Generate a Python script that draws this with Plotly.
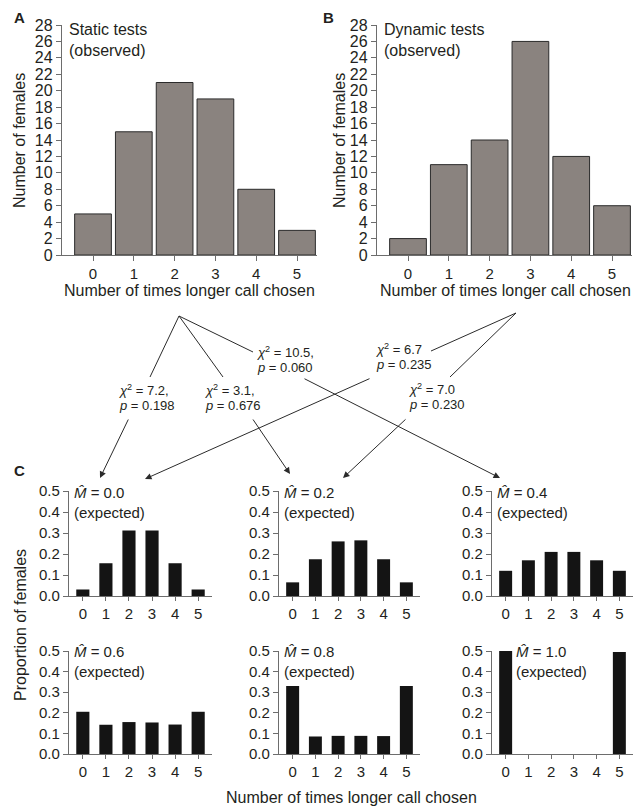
import plotly.graph_objects as go

W, H = 639, 810

# ---------------- data ----------------
times_chosen = [0, 1, 2, 3, 4, 5]
static_observed = [5, 15, 21, 19, 8, 3]
dynamic_observed = [2, 11, 14, 26, 12, 6]

m_labels = ["0.0", "0.2", "0.4", "0.6", "0.8", "1.0"]
exp_m00 = [0.031, 0.156, 0.312, 0.312, 0.156, 0.031]
exp_m02 = [0.065, 0.175, 0.260, 0.265, 0.175, 0.065]
exp_m04 = [0.120, 0.170, 0.210, 0.210, 0.170, 0.120]
exp_m06 = [0.205, 0.142, 0.155, 0.153, 0.143, 0.205]
exp_m08 = [0.330, 0.085, 0.088, 0.088, 0.087, 0.330]
exp_m10 = [0.500, 0.0, 0.0, 0.0, 0.0, 0.495]
expected = [exp_m00, exp_m02, exp_m04, exp_m06, exp_m08, exp_m10]

chi_labels = ["7.2,", "3.1,", "10.5,", "6.7", "7.0"]
p_labels = ["0.198", "0.676", "0.060", "0.235", "0.230"]

# ---------------- helpers ----------------
FONT = "Liberation Sans, Arial, Helvetica, sans-serif"
TXT = "#231f20"
AX = "#6d6d6d"


def px_x(x):
    return x / W


def px_y(y):
    return 1 - y / H


def xdom(l, r):
    return [l / W, r / W]


def ydom(top, bottom):
    return [1 - bottom / H, 1 - top / H]


fig = go.Figure()

# panel geometry (pixels): (left, right, top, bottom)
panels = [
    (62, 317, 25, 255),    # A
    (377, 632, 25, 255),   # B
    (69, 212, 491, 596),   # C row1
    (279, 420, 491, 596),
    (492, 633, 491, 596),
    (69, 212, 651, 754),   # C row2
    (279, 420, 651, 754),
    (492, 633, 651, 754),
]

series = [static_observed, dynamic_observed] + expected

for i, (l, r, t, b) in enumerate(panels):
    n = i + 1
    xa = "x" if n == 1 else f"x{n}"
    ya = "y" if n == 1 else f"y{n}"
    big = i < 2
    fig.add_trace(go.Bar(
        x=times_chosen, y=series[i], xaxis=xa, yaxis=ya,
        width=0.9 if big else 0.57,
        marker=dict(color="#8a837f" if big else "#141414",
                    line=dict(color="#2b2b2b", width=1 if big else 0)),
        showlegend=False, hoverinfo="skip",
    ))
    xk = "xaxis" if n == 1 else f"xaxis{n}"
    yk = "yaxis" if n == 1 else f"yaxis{n}"
    if big:
        xr = [-0.76, 5.49]
        yr = [0, 28]
        ydt = 2
        yfmt = "d"
        fs = 16
        xfs = 15
    else:
        xr = [-0.6, 5.6]
        yr = [0, 0.5]
        ydt = 0.1
        yfmt = ".1f"
        fs = 15
        xfs = 15
    fig.update_layout(**{
        xk: dict(domain=xdom(l, r), anchor=ya, range=xr, tickmode="array",
                 tickvals=times_chosen, ticktext=[str(v) for v in times_chosen],
                 showline=True, linecolor=AX, linewidth=1.2,
                 ticks="outside", ticklen=5 if big else 4, tickcolor=AX,
                 showgrid=False, zeroline=False, fixedrange=True,
                 automargin=False,
                 tickfont=dict(family=FONT, size=xfs, color=TXT)),
        yk: dict(domain=ydom(t, b), anchor=xa, range=yr, dtick=ydt, tick0=0,
                 tickformat=yfmt, showline=True, linecolor=AX, linewidth=1.2,
                 ticks="outside", ticklen=5, tickcolor=AX, showgrid=False,
                 zeroline=False, fixedrange=True, automargin=False,
                 tickfont=dict(family=FONT, size=fs, color=TXT)),
    })

ann = []


def text(x, y, s, size=15, xanchor="left", yanchor="middle", angle=0, bold=False):
    if bold:
        s = f"<b>{s}</b>"
    ann.append(dict(x=px_x(x), y=px_y(y), xref="paper", yref="paper", text=s,
                    showarrow=False, xanchor=xanchor, yanchor=yanchor,
                    textangle=angle, align="left",
                    font=dict(family=FONT, size=size, color=TXT)))


# panel letters
text(12, 17, "A", size=15, bold=True)
text(321, 17, "B", size=15, bold=True)
text(12, 470, "C", size=15, bold=True)

# panel captions
text(67, 40, "Static tests<br>(observed)", size=16)
text(382, 40, "Dynamic tests<br>(observed)", size=16)

# axis titles
text(189, 290, "Number of times longer call chosen", size=16, xanchor="center")
text(505, 290, "Number of times longer call chosen", size=16, xanchor="center")
text(20, 141, "Number of females", size=16, xanchor="center", angle=-90)
text(340, 141, "Number of females", size=16, xanchor="center", angle=-90)
text(20, 625, "Proportion of females", size=16, xanchor="center", angle=-90)
text(351, 797, "Number of times longer call chosen", size=16, xanchor="center")

# expected captions
cap_pos = [(72, 502), (282, 502), (495, 502), (72, 661), (282, 661), (514, 661)]
for (cx, cy), m in zip(cap_pos, m_labels):
    text(cx, cy, f"<i>M\u0302</i> = {m}<br>(expected)", size=15)

# chi-square texts
chi_pos = [(117, 390), (203, 390), (255, 352), (374, 349), (407, 389)]
for (cx, cy), c, p in zip(chi_pos, chi_labels, p_labels):
    text(cx, cy, f"<i>χ</i><sup>2</sup> = {c}", size=13)
    text(cx, cy + 15, f"<i>p</i> = {p}", size=13)

# connector lines (no arrow)
shapes = []
connectors = [
    ((179, 316), (150, 377)),
    ((179, 316), (223, 377)),
    ((179, 316), (253, 352)),
    ((516, 313), (431, 351)),
    ((516, 313), (450, 377)),
]
for (x0, y0), (x1, y1) in connectors:
    shapes.append(dict(type="line", xref="paper", yref="paper",
                       x0=px_x(x0), y0=px_y(y0), x1=px_x(x1), y1=px_y(y1),
                       line=dict(color="#2b2b2b", width=1)))

# arrows (tail -> head)
arrows = [
    ((129, 418), (100, 478)),
    ((371, 378), (145, 479)),
    ((252, 418), (290, 474)),
    ((303, 378), (500, 478)),
    ((407, 418), (343, 478)),
]
for (tx, ty), (hx, hy) in arrows:
    ann.append(dict(x=px_x(hx), y=px_y(hy), xref="paper", yref="paper",
                    ax=tx - hx, ay=ty - hy, axref="pixel", ayref="pixel",
                    text="", showarrow=True, arrowhead=2, arrowsize=1.3,
                    arrowwidth=1, arrowcolor="#2b2b2b", standoff=0))

fig.update_layout(
    template="none",
    width=W, height=H,
    margin=dict(l=0, r=0, t=0, b=0, pad=0, autoexpand=False),
    paper_bgcolor="white", plot_bgcolor="white",
    annotations=ann, shapes=shapes,
    bargap=0.1,
    font=dict(family=FONT, color=TXT),
)

fig.write_html(
    "out.html",
    config={"displayModeBar": False, "staticPlot": True},
    post_script="document.body.style.margin='0';document.body.style.overflow='hidden';",
)
